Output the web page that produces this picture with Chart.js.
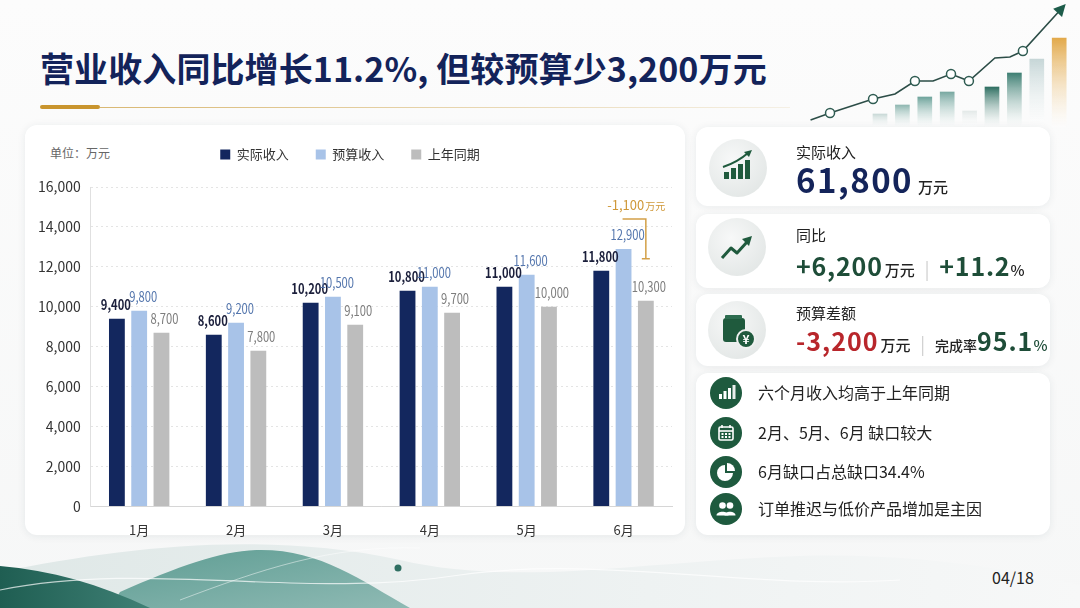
<!DOCTYPE html>
<html lang="zh-CN">
<head>
<meta charset="utf-8">
<title>营业收入</title>
<script src="https://cdn.jsdelivr.net/npm/chart.js@4.4.1/dist/chart.umd.min.js"></script>
<style>
  html, body { margin: 0; padding: 0; }
  body {
    width: 1080px; height: 608px; position: relative; overflow: hidden;
    background: linear-gradient(180deg, #fcfcfc 0%, #f6f7f7 100%);
    font-family: "Noto Sans CJK SC", "Noto Sans", sans-serif; color: #222;
  }
  .t { position: absolute; white-space: nowrap; line-height: 1; }
  .card {
    position: absolute; background: #fff; border-radius: 12px;
    box-shadow: 0 1px 8px rgba(30, 50, 60, 0.08);
  }
  .title { left: 40px; top: 51px; font-size: 34px; font-weight: 700; color: #13235a; letter-spacing: 0.1px; }
  .rule-gold { position: absolute; left: 40px; top: 105px; width: 60px; height: 4px; background: #c9952e; border-radius: 2px; }
  .rule-thin { position: absolute; left: 100px; top: 107px; width: 690px; height: 1px; background: linear-gradient(90deg, #d9b873, rgba(220, 195, 140, 0.2)); }
  .unit { left: 50px; top: 147px; font-size: 12px; color: #666; }
  .ico { position: absolute; }
  .lbl { font-size: 15px; color: #222; }
  .green { color: #1e4d38; font-weight: 700; }
  .red { color: #b8262b; font-weight: 700; }
  .sep { color: #bbb; font-weight: 300; margin: 0 10px; font-size: 18px; letter-spacing: 0; }
  .unitsm { font-size: 15px; color: #222; font-weight: 500; letter-spacing: 0; }
  .item { font-size: 16px; color: #222; left: 758px; }
  #chartBox { position: absolute; left: 25px; top: 121px; width: 660px; height: 436px; }
  #decoBox { position: absolute; left: 800px; top: 0; width: 280px; height: 130px; }
</style>
</head>
<body>

<svg width="1080" height="90" viewBox="0 518 1080 90" style="position:absolute;left:0;top:518px">
  <defs>
    <linearGradient id="gLight" x1="0" y1="0" x2="1" y2="0">
      <stop offset="0" stop-color="#dfe8e7"/>
      <stop offset="0.6" stop-color="#eef2f2"/>
      <stop offset="1" stop-color="#f7f8f8"/>
    </linearGradient>
    <linearGradient id="gTeal" x1="0" y1="0" x2="1" y2="1">
      <stop offset="0" stop-color="#5e9d93"/>
      <stop offset="1" stop-color="#8fbab4"/>
    </linearGradient>
    <linearGradient id="gDark" x1="0" y1="0" x2="1" y2="0">
      <stop offset="0" stop-color="#1f5e52"/>
      <stop offset="1" stop-color="#3f8075"/>
    </linearGradient>
  </defs>
  <path d="M0,572 C120,548 260,530 400,560 C520,588 650,560 800,556 C900,553 1000,566 1080,585 L1080,608 L0,608 Z" fill="url(#gLight)"/>
  <path d="M120,592 C180,566 220,551 258,550 C320,549 360,580 410,608 L110,608 Z" fill="url(#gTeal)"/>
  <path d="M0,566 C50,570 100,584 150,608 L0,608 Z" fill="url(#gDark)"/>
  <path d="M0,590 C150,560 300,600 460,575 C600,555 750,590 900,580" fill="none" stroke="#ffffff" stroke-width="1.2" opacity="0.7"/>
  <path d="M180,600 C260,570 330,545 420,548" fill="none" stroke="#ffffff" stroke-width="0.8" opacity="0.6"/>
  <circle cx="398" cy="568" r="3.5" fill="#2f6f62"/>
</svg>

<div class="t title">营业收入同比增长11.2%, 但较预算少3,200万元</div>
<div class="rule-thin"></div>
<div class="rule-gold"></div>

<div id="decoBox"><canvas id="decoChart"></canvas></div>

<div class="card" style="left:25px;top:125px;width:660px;height:410px"></div>
<div class="t unit">单位：万元</div>
<div id="chartBox"><canvas id="mainChart"></canvas></div>

<!-- KPI cards -->
<div class="card" style="left:696px;top:127px;width:354px;height:79px"></div>
<div class="card" style="left:696px;top:214px;width:354px;height:74px"></div>
<div class="card" style="left:696px;top:294px;width:354px;height:72px"></div>
<div class="card" style="left:696px;top:373px;width:354px;height:162px"></div>

<svg class="ico" style="left:708px;top:138px" width="60" height="60" viewBox="0 0 60 60">
  <defs><radialGradient id="gIco" cx="0.4" cy="0.35" r="0.7"><stop offset="0" stop-color="#f7f8f8"/><stop offset="1" stop-color="#e3e7e6"/></radialGradient></defs>
  <circle cx="30" cy="30" r="29" fill="url(#gIco)"/>
  <rect x="16" y="34" width="5" height="7" fill="#1f5a3d"/>
  <rect x="23" y="30" width="5" height="11" fill="#1f5a3d"/>
  <rect x="30" y="26" width="5" height="15" fill="#1f5a3d"/>
  <rect x="37" y="22" width="5" height="19" fill="#1f5a3d"/>
  <path d="M15,29 C24,26 32,22 40,15" fill="none" stroke="#1f5a3d" stroke-width="2"/>
  <path d="M44,12 L36,14 L41,19 Z" fill="#1f5a3d"/>
</svg>
<svg class="ico" style="left:707px;top:217px" width="60" height="60" viewBox="0 0 60 60">
  <circle cx="30" cy="30" r="29" fill="url(#gIco)"/>
  <polyline points="15,41 24,31 30,36 40,25" fill="none" stroke="#1f5a3d" stroke-width="3" stroke-linejoin="round"/>
  <path d="M45,19 L35,22 L42,29 Z" fill="#1f5a3d"/>
</svg>
<svg class="ico" style="left:707px;top:300px" width="60" height="60" viewBox="0 0 60 60">
  <circle cx="30" cy="30" r="29" fill="url(#gIco)"/>
  <rect x="16" y="18" width="22" height="24" rx="3" fill="#1f5a3d"/>
  <rect x="18" y="15" width="17" height="4" rx="1" fill="#2e6d50"/>
  <circle cx="39" cy="39" r="9" fill="#1f5a3d" stroke="#eef0ef" stroke-width="2"/>
  <text x="39" y="43.5" font-size="12" font-weight="700" fill="#fff" text-anchor="middle" font-family="Noto Sans CJK SC">¥</text>
</svg>

<svg class="ico" style="left:710px;top:377px" width="32" height="32" viewBox="0 0 32 32">
  <circle cx="16" cy="16" r="16" fill="#1e5a3e"/>
  <rect x="9" y="17" width="3" height="5" fill="#fff"/><rect x="13.5" y="14" width="3" height="8" fill="#fff"/>
  <rect x="18" y="11" width="3" height="11" fill="#fff"/><rect x="22.5" y="8" width="3" height="14" fill="#fff" opacity="0.9"/>
</svg>
<svg class="ico" style="left:710px;top:417px" width="32" height="32" viewBox="0 0 32 32">
  <circle cx="16" cy="16" r="16" fill="#1e5a3e"/>
  <rect x="9" y="10" width="14" height="13" rx="1.5" fill="none" stroke="#fff" stroke-width="1.6"/>
  <line x1="9" y1="14" x2="23" y2="14" stroke="#fff" stroke-width="1.6"/>
  <line x1="12" y1="8" x2="12" y2="11" stroke="#fff" stroke-width="1.6"/><line x1="20" y1="8" x2="20" y2="11" stroke="#fff" stroke-width="1.6"/>
  <rect x="11.5" y="16" width="2" height="2" fill="#fff"/><rect x="15" y="16" width="2" height="2" fill="#fff"/><rect x="18.5" y="16" width="2" height="2" fill="#fff"/>
  <rect x="11.5" y="19" width="2" height="2" fill="#fff"/><rect x="15" y="19" width="2" height="2" fill="#fff"/><rect x="18.5" y="19" width="2" height="2" fill="#fff"/>
</svg>
<svg class="ico" style="left:710px;top:456px" width="32" height="32" viewBox="0 0 32 32">
  <circle cx="16" cy="16" r="16" fill="#1e5a3e"/>
  <path d="M15,9 A8,8 0 1 0 23,17 L15,17 Z" fill="#fff"/>
  <path d="M17,7 A8,8 0 0 1 25,15 L17,15 Z" fill="#fff"/>
</svg>
<svg class="ico" style="left:710px;top:493px" width="32" height="32" viewBox="0 0 32 32">
  <circle cx="16" cy="16" r="16" fill="#1e5a3e"/>
  <circle cx="12.5" cy="12.5" r="3.3" fill="#fff"/><circle cx="20" cy="12.5" r="3.3" fill="#fff"/>
  <path d="M6.5,22.5 C6.5,17.5 18.5,17.5 18.5,22.5 Z" fill="#fff"/>
  <path d="M14.5,22.5 C14.5,17.5 25.5,17.5 25.5,22.5 Z" fill="#fff"/>
</svg>

<div class="t lbl" style="left:796px;top:144px">实际收入</div>
<div class="t" style="left:796px;top:163px;font-size:33px;font-weight:700;color:#14245a;letter-spacing:1.5px">61,800<span class="unitsm" style="margin-left:5px">万元</span></div>

<div class="t lbl" style="left:796px;top:227px">同比</div>
<div class="t green" style="left:796px;top:253px;font-size:25px;letter-spacing:0.8px">+6,200<span class="unitsm" style="margin-left:2px">万元</span><span class="sep">|</span>+11.2<span class="unitsm">%</span></div>

<div class="t lbl" style="left:796px;top:305px">预算差额</div>
<div class="t red" style="left:796px;top:328px;font-size:25px;letter-spacing:1px">-3,200<span class="unitsm" style="margin-left:2px">万元</span><span class="sep">|</span><span class="unitsm" style="font-size:14px">完成率</span><span style="color:#1e4d38">95.1</span><span class="unitsm" style="color:#1e4d38">%</span></div>

<div class="t item" style="top:384px">六个月收入均高于上年同期</div>
<div class="t item" style="top:424px">2月、5月、6月 缺口较大</div>
<div class="t item" style="top:463px">6月缺口占总缺口34.4%</div>
<div class="t item" style="top:500px">订单推迟与低价产品增加是主因</div>

<div class="t" style="left:992px;top:569px;font-size:16px;color:#222">04/18</div>

<script>
// main chart data
const months = ['1月', '2月', '3月', '4月', '5月', '6月'];
const actualIncome = [9400, 8600, 10200, 10800, 11000, 11800];
const budgetIncome = [9800, 9200, 10500, 11000, 11600, 12900];
const lastYearIncome = [8700, 7800, 9100, 9700, 10000, 10300];
const seriesNames = ['实际收入', '预算收入', '上年同期'];
const yMax = 16000;
const yStep = 2000;

// decoration (top right) data
const decoBarPos = [1, 2, 3, 4, 5, 6, 7, 8, 9];
const decoBarValues = [13, 22, 30, 35, 16, 40, 54, 68, 89];
const decoLineX = [-2.1, -1.23, 0.69, 1.67, 2.56, 3.37, 4.17, 4.97, 6.13, 6.8, 7.38, 9.17];
const decoLineY = [7, 14, 28, 33, 46, 46, 53, 46, 69, 70, 76, 120];
const decoMarked = [1, 2, 4, 6, 7, 10];

const barColors = ['#13275e', '#a8c3e8', '#bdbdbd'];
const labelStyles = [
    { font: 'bold 14px "Noto Sans CJK SC"', color: '#1b1f3b', dx: -1 },
    { font: '14px "Noto Sans CJK SC"', color: '#5476ad', dx: 4 },
    { font: '14px "Noto Sans CJK SC"', color: '#7d7d7d', dx: 3 }
];
const fmt = v => v.toLocaleString('en-US');

// extra room under the legend
const legendGap = {
    id: 'legendGap',
    beforeInit(chart) {
        const fit = chart.legend.fit;
        chart.legend.fit = function () {
            fit.call(this);
            this.height += 16;
        };
    }
};

// numbers above every bar (narrowed a bit, like the condensed face of the original)
const valueLabels = {
    id: 'valueLabels',
    afterDatasetsDraw(chart) {
        const ctx = chart.ctx;
        chart.data.datasets.forEach((ds, i) => {
            const st = labelStyles[i];
            chart.getDatasetMeta(i).data.forEach((bar, j) => {
                ctx.save();
                ctx.translate(bar.x + st.dx, bar.y - 14);
                ctx.scale(0.8, 1);
                ctx.font = st.font;
                ctx.fillStyle = st.color;
                ctx.textAlign = 'center';
                ctx.textBaseline = 'middle';
                ctx.fillText(fmt(ds.data[j]), 0, 0);
                ctx.restore();
            });
        });
    }
};

// bracket showing the budget gap of the last month
const gapBracket = {
    id: 'gapBracket',
    afterDatasetsDraw(chart) {
        const j = months.length - 1;
        const a = chart.getDatasetMeta(0).data[j];
        const b = chart.getDatasetMeta(1).data[j];
        const c = chart.getDatasetMeta(2).data[j];
        const top = b.y - 30, bottom = a.y - 12;
        const xl = b.x - 1, xr = c.x;
        const ctx = chart.ctx;
        ctx.save();
        ctx.strokeStyle = '#d3a048';
        ctx.lineWidth = 1.5;
        ctx.beginPath();
        ctx.moveTo(xl, top); ctx.lineTo(xr, top); ctx.lineTo(xr, bottom);
        ctx.moveTo(xr - 4, bottom); ctx.lineTo(xr + 4, bottom);
        ctx.stroke();
        const gap = actualIncome[j] - budgetIncome[j];
        const num = (gap < 0 ? '-' : '+') + fmt(Math.abs(gap));
        ctx.font = '13px "Noto Sans CJK SC"';
        const w1 = ctx.measureText(num).width;
        ctx.font = '10px "Noto Sans CJK SC"';
        const w2 = ctx.measureText('万元').width;
        const x0 = (xl + xr) / 2 + 2 - (w1 + w2 + 1) / 2;
        ctx.fillStyle = '#cf9838';
        ctx.textBaseline = 'alphabetic';
        ctx.font = '13px "Noto Sans CJK SC"';
        ctx.fillText(num, x0, top - 9);
        ctx.font = '10px "Noto Sans CJK SC"';
        ctx.fillText('万元', x0 + w1 + 1, top - 9);
        ctx.restore();
    }
};

new Chart(document.getElementById('mainChart'), {
    type: 'bar',
    data: {
        labels: months,
        datasets: [
            { label: seriesNames[0], data: actualIncome, backgroundColor: barColors[0] },
            { label: seriesNames[1], data: budgetIncome, backgroundColor: barColors[1] },
            { label: seriesNames[2], data: lastYearIncome, backgroundColor: barColors[2] }
        ]
    },
    options: {
        responsive: true,
        maintainAspectRatio: false,
        animation: false,
        events: [],
        layout: { padding: { left: 3, right: 13, top: 0, bottom: 11 } },
        datasets: { bar: { categoryPercentage: 0.69, barPercentage: 0.71 } },
        plugins: {
            legend: {
                position: 'top',
                labels: {
                    boxWidth: 10, boxHeight: 10, padding: 27,
                    color: '#333', font: { size: 13, family: 'Noto Sans CJK SC' }
                }
            },
            tooltip: { enabled: false }
        },
        scales: {
            x: {
                grid: { display: false },
                border: { color: '#d6d6d6' },
                ticks: { color: '#333', padding: 8, font: { size: 13, family: 'Noto Sans CJK SC' } }
            },
            y: {
                min: 0, max: yMax,
                grid: { color: '#e4e4e4', drawTicks: false },
                border: { color: '#e0e0e0', dash: [2, 3] },
                ticks: {
                    stepSize: yStep, padding: 10, color: '#333',
                    font: { size: 14, family: 'Noto Sans CJK SC' },
                    callback: v => fmt(v)
                }
            }
        }
    },
    plugins: [legendGap, valueLabels, gapBracket]
});

// small decorative growth chart in the corner
const decoColors = ['#c9d9d7', '#8fb7b1', '#6fa49c', '#79a9a2', '#e3e9e8', '#2f6f62', '#3e7f73', '#c6d6d7', '#e2a94a'];
const decoArrow = {
    id: 'decoArrow',
    afterDatasetsDraw(chart) {
        const pts = chart.getDatasetMeta(1).data;
        const p = pts[pts.length - 1], q = pts[pts.length - 2];
        const ang = Math.atan2(p.y - q.y, p.x - q.x);
        const ctx = chart.ctx;
        ctx.save();
        ctx.translate(p.x, p.y);
        ctx.rotate(ang);
        ctx.fillStyle = '#1d5c4a';
        ctx.beginPath();
        ctx.moveTo(4, 0); ctx.lineTo(-8, -6); ctx.lineTo(-8, 6); ctx.closePath();
        ctx.fill();
        ctx.restore();
    }
};

new Chart(document.getElementById('decoChart'), {
    type: 'bar',
    data: {
        datasets: [
            {
                type: 'bar',
                data: decoBarPos.map((x, i) => ({ x: x, y: decoBarValues[i] })),
                barThickness: 14,
                backgroundColor: (c) => {
                    const chart = c.chart;
                    if (!chart.chartArea || !c.parsed) return decoColors[c.dataIndex];
                    const yTop = chart.scales.y.getPixelForValue(c.parsed.y);
                    const g = chart.ctx.createLinearGradient(0, yTop, 0, chart.scales.y.getPixelForValue(0));
                    g.addColorStop(0, decoColors[c.dataIndex]);
                    g.addColorStop(1, 'rgba(255,255,255,0.35)');
                    return g;
                },
                order: 2
            },
            {
                type: 'line',
                data: decoLineX.map((x, i) => ({ x: x, y: decoLineY[i] })),
                borderColor: '#2c4d47',
                borderWidth: 1.6,
                tension: 0,
                pointRadius: decoLineX.map((x, i) => decoMarked.includes(i) ? 4.5 : 0),
                pointBackgroundColor: '#fff',
                pointBorderColor: '#2f5c52',
                pointBorderWidth: 1.5,
                order: 1
            }
        ]
    },
    options: {
        responsive: true,
        maintainAspectRatio: false,
        animation: false,
        events: [],
        layout: { padding: 0 },
        plugins: { legend: { display: false }, tooltip: { enabled: false } },
        scales: {
            x: { type: 'linear', display: false, offset: false, min: -2.571, max: 9.929 },
            y: { display: false, min: -3, max: 127 }
        }
    },
    plugins: [decoArrow]
});
</script>
</body>
</html>
